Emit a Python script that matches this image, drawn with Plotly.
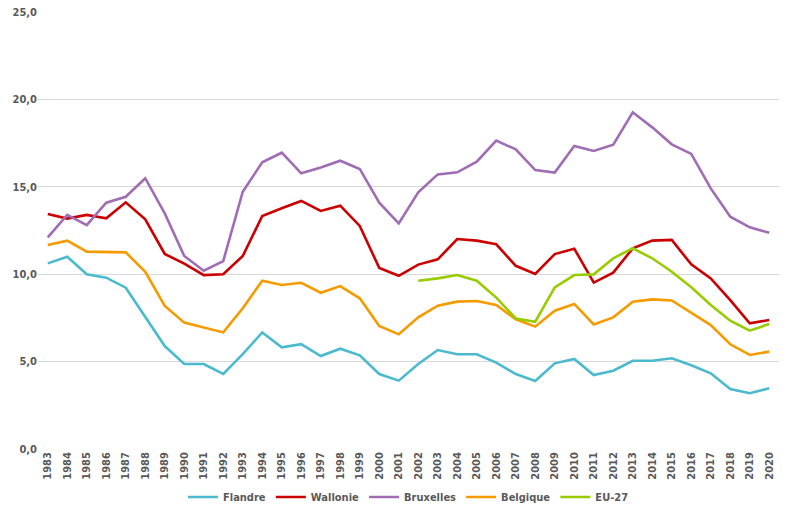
import plotly.graph_objects as go

years = [str(y) for y in range(1983, 2021)]

flandre = [10.62, 11.0, 10.0, 9.8, 9.23, 7.57, 5.89, 4.86, 4.86, 4.29, 5.43, 6.67, 5.82, 6.0,
           5.32, 5.74, 5.36, 4.29, 3.91, 4.86, 5.66, 5.42, 5.42, 4.94, 4.29, 3.89, 4.9, 5.15,
           4.23, 4.48, 5.05, 5.05, 5.19, 4.79, 4.33, 3.43, 3.19, 3.47]
wallonie = [13.44, 13.18, 13.39, 13.2, 14.11, 13.14, 11.16, 10.6, 9.95, 10.0, 11.04, 13.33, 13.77,
            14.19, 13.62, 13.92, 12.76, 10.36, 9.91, 10.55, 10.85, 12.01, 11.92, 11.71, 10.48,
            10.01, 11.15, 11.46, 9.52, 10.09, 11.48, 11.92, 11.96, 10.56, 9.76, 8.52, 7.19, 7.38]
bruxelles = [12.11, 13.39, 12.81, 14.09, 14.43, 15.49, 13.48, 11.04, 10.2, 10.75, 14.72, 16.4,
             16.95, 15.77, 16.11, 16.49, 16.02, 14.09, 12.91, 14.68, 15.71, 15.83, 16.44, 17.64,
             17.14, 15.96, 15.81, 17.33, 17.05, 17.41, 19.26, 18.4, 17.43, 16.88, 14.91, 13.29,
             12.68, 12.37]
belgique = [11.67, 11.92, 11.29, 11.29, 11.25, 10.14, 8.18, 7.23, 6.96, 6.67, 8.05, 9.63, 9.38,
            9.51, 8.94, 9.32, 8.62, 7.04, 6.56, 7.53, 8.2, 8.43, 8.47, 8.24, 7.42, 7.0, 7.91, 8.3,
            7.13, 7.53, 8.43, 8.56, 8.5, 7.82, 7.09, 5.99, 5.38, 5.57]
eu27 = [None] * 19 + [9.63, 9.76, 9.95, 9.63, 8.66, 7.47, 7.28, 9.25, 9.95, 9.99, 10.91, 11.48,
                      10.91, 10.14, 9.25, 8.24, 7.34, 6.77, 7.15]

series = [
    ("Flandre", flandre, "#4BBACF"),
    ("Wallonie", wallonie, "#CC0000"),
    ("Bruxelles", bruxelles, "#A06CB4"),
    ("Belgique", belgique, "#F59B00"),
    ("EU-27", eu27, "#99CC00"),
]

fig = go.Figure()
for name, vals, col in series:
    fig.add_trace(go.Scatter(x=years, y=vals, name=name, mode="lines",
                             line=dict(color=col, width=2.6), connectgaps=False))

font_family = "Liberation Sans Narrow, DejaVu Sans Condensed, Arial Narrow, sans-serif"
fig.update_layout(
    width=800, height=530,
    margin=dict(l=38, r=21, t=12, b=81, autoexpand=False),
    plot_bgcolor="white", paper_bgcolor="white",
    separators=", ",
    font=dict(family=font_family, size=11, color="#595959"),
    showlegend=True,
    legend=dict(orientation="h", x=0.5, xanchor="center", y=-0.11, yanchor="middle",
                font=dict(family=font_family, size=11, color="#595959", weight="bold"),
                itemwidth=30, tracegroupgap=0),
    xaxis=dict(type="category", range=[-0.5, len(years) - 0.5], tickangle=-90,
               showgrid=False, zeroline=False, showline=False,
               ticks="", automargin=False, tickfont=dict(size=11, weight="bold")),
    yaxis=dict(range=[0, 25], dtick=5, tickformat=".1f", showgrid=True, gridcolor="#D9D9D9",
               gridwidth=1, zeroline=False, showline=False, ticks="", automargin=False,
               tickfont=dict(size=11, weight="bold")),
)

fig.write_html("out.html", config={"displayModeBar": False},
               post_script="document.body.style.margin='0';")
